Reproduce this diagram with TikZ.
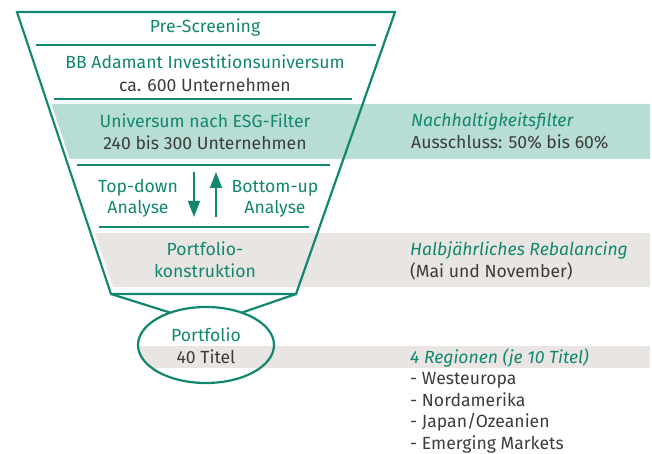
\documentclass[tikz,border=0pt]{standalone}
\usepackage{fontspec}
\setmainfont{Fira Sans}
\usetikzlibrary{shapes.geometric,arrows.meta}
\definecolor{fgreen}{HTML}{12876F}
\definecolor{ftext}{HTML}{3C3C3B}
\definecolor{bandgreen}{HTML}{B7DDD4}
\definecolor{bandgrey}{HTML}{E8E5E2}
\tikzset{
  funnel/.style={draw=fgreen,line width=2.2pt,line join=miter},
  sepline/.style={draw=fgreen,line width=1.2pt},
  gtxt/.style={text=fgreen,font=\fontsize{17.6}{22}\selectfont,anchor=base,inner sep=0pt},
  dtxt/.style={text=ftext,font=\fontsize{17.6}{22}\selectfont,anchor=base,inner sep=0pt},
  rtxt/.style={text=ftext,font=\fontsize{17.6}{22}\selectfont,anchor=base west,inner sep=0pt},
  rhead/.style={text=fgreen,font=\fontsize{17.6}{22}\selectfont\itshape,anchor=base west,inner sep=0pt},
  flowarrow/.style={draw=fgreen,line width=1.6pt,-{Triangle[length=16pt,width=12pt]}},
}
\begin{document}
\begin{tikzpicture}[x=1pt,y=-1pt]
\useasboundingbox (0,0) rectangle (652,454);
% bands
\fill[bandgreen] (51.5,104) -- (650,104) -- (650,159) -- (69.8,159) -- cycle;
\fill[bandgrey] (95,233) -- (650,233) -- (650,287) -- (113,287) -- cycle;
\node[ellipse,minimum width=136pt,minimum height=76pt,inner sep=0pt] (port) at (206,345) {};
\begin{scope}
  \clip (206,345) ellipse [x radius=67pt,y radius=37pt];
  \fill[bandgrey] (130,346) rectangle (290,368);
\end{scope}
\fill[bandgrey] (206,346) rectangle (650,368);
% funnel
\coordinate (tl) at (17,12);
\coordinate (tr) at (395,12);
\coordinate (br) at (296,294);
\coordinate (bl) at (111,294);
\draw[funnel] (tl) -- (tr) -- (br) -- (bl) -- cycle;
\draw[funnel] (bl) -- (port.138);
\draw[funnel] (br) -- (port.42);
\draw[draw=fgreen,line width=2.2pt] (port.center) ellipse [x radius=68pt,y radius=38pt];
% separator lines
\coordinate (s1a) at (36,45);  \coordinate (s1b) at (376,45);
\coordinate (s2a) at (54,99);  \coordinate (s2b) at (352,99);
\coordinate (s3a) at (77,165); \coordinate (s3b) at (330,165);
\coordinate (s4a) at (99,227); \coordinate (s4b) at (309,227);
\draw[sepline] (s1a) -- (s1b);
\draw[sepline] (s2a) -- (s2b);
\draw[sepline] (s3a) -- (s3b);
\draw[sepline] (s4a) -- (s4b);
% funnel texts
\node[gtxt] (pre) at (205,33) {Pre-Screening};
\node[gtxt] (bb) at (205,69) {BB Adamant Investitionsuniversum};
\node[dtxt] (ca) at (205,91.5) {ca. 600 Unternehmen};
\node[gtxt] (esg) at (205,128) {Universum nach ESG-Filter};
\node[dtxt] (esgn) at (205,150) {240 bis 300 Unternehmen};
\node[gtxt] (td1) at (138,193) {Top-down};
\node[gtxt] (td2) at (138,214) {Analyse};
\node[gtxt] (bu1) at (275,193) {Bottom-up};
\node[gtxt] (bu2) at (275,214) {Analyse};
\node[gtxt] (pk1) at (205,255) {Portfolio-};
\node[gtxt] (pk2) at (205,277) {konstruktion};
\node[gtxt] (pf) at (206,341) {Portfolio};
\node[dtxt] (pfn) at (206,363) {40 Titel};
% arrows
\coordinate (a1s) at (194,172); \coordinate (a1e) at (194,217);
\coordinate (a2s) at (216,217); \coordinate (a2e) at (216,172);
\draw[flowarrow] (a1s) -- (a1e);
\draw[flowarrow] (a2s) -- (a2e);
% right texts
\node[rhead] (nh) at (411,127) {Nachhaltigkeitsfilter};
\node[rtxt] (au) at (411,149) {Ausschluss: 50\% bis 60\%};
\node[rhead] (hr) at (410,255) {Halbjährliches Rebalancing};
\node[rtxt] (mn) at (410,277) {(Mai und November)};
\node[rhead] (rg) at (410,363) {4 Regionen (je 10 Titel)};
\node[rtxt] (l1) at (410,384.5) {- Westeuropa};
\node[rtxt] (l2) at (410,406) {- Nordamerika};
\node[rtxt] (l3) at (410,427.5) {- Japan/Ozeanien};
\node[rtxt] (l4) at (410,449) {- Emerging Markets};
\end{tikzpicture}
\end{document}
